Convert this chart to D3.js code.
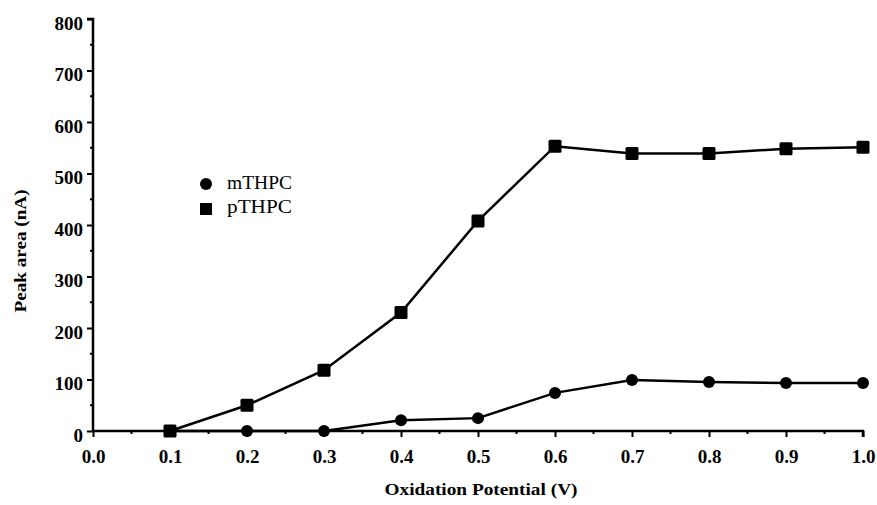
<!DOCTYPE html>
<html><head><meta charset="utf-8">
<script src="https://cdn.jsdelivr.net/npm/d3@7/dist/d3.min.js"></script>
<style>body{margin:0;background:#fff}svg{display:block}</style>
</head><body>
<svg id="c" width="877" height="505"></svg>
<script>
const potentials = [0.1, 0.2, 0.3, 0.4, 0.5, 0.6, 0.7, 0.8, 0.9, 1.0];
const pTHPC = [0, 50, 118, 230, 408, 553, 539, 539, 548, 551];
const mTHPC = [0, 0, 0, 21, 25, 74, 99, 95, 93, 93];
const xTicks = [0.0, 0.1, 0.2, 0.3, 0.4, 0.5, 0.6, 0.7, 0.8, 0.9, 1.0];
const yTicks = [0, 100, 200, 300, 400, 500, 600, 700, 800];
const seriesNames = ["mTHPC", "pTHPC"];

const svg = d3.select("#c");
const x = d3.scaleLinear().domain([0, 1]).range([93, 863]);
const y = d3.scaleLinear().domain([0, 800]).range([431, 19]);
const serif = "'Liberation Serif','Times New Roman',serif";

// axes
const yAxis = d3.axisLeft(y).tickValues(yTicks).tickSize(6).tickPadding(4).tickFormat(d3.format("d"));
const gy = svg.append("g").attr("transform", "translate(93,0)").call(yAxis);
const xAxis = d3.axisBottom(x).tickValues(xTicks).tickSize(6).tickPadding(13).tickFormat(d3.format(".1f"));
const gx = svg.append("g").attr("transform", "translate(0,431)").call(xAxis);
[gy, gx].forEach(g => {
  g.select(".domain").attr("stroke", "#000").attr("stroke-width", 2.5);
  g.selectAll(".tick line").attr("stroke", "#000").attr("stroke-width", 2);
  g.selectAll(".tick text").attr("fill", "#000").style("font-family", serif)
    .style("font-weight", "bold").style("font-size", "19px");
});
gy.selectAll(".tick text").attr("dy", "0.55em");
gy.select(".domain").attr("d", "M-6,19H0V431");
gx.select(".domain").attr("d", "M93,0H863V6");
// minor ticks
const yMinor = d3.range(50, 800, 100);
svg.append("g").selectAll("line").data(yMinor).join("line")
  .attr("x1", 90).attr("x2", 93).attr("y1", d => y(d)).attr("y2", d => y(d))
  .attr("stroke", "#000").attr("stroke-width", 2);
const xMinor = d3.range(0.05, 1, 0.1);
svg.append("g").selectAll("line").data(xMinor).join("line")
  .attr("x1", d => x(d)).attr("x2", d => x(d)).attr("y1", 431).attr("y2", 434)
  .attr("stroke", "#000").attr("stroke-width", 2);

// axis titles
svg.append("text").attr("x", 481).attr("y", 495).attr("text-anchor", "middle")
  .attr("textLength", 193).attr("lengthAdjust", "spacingAndGlyphs")
  .style("font-family", serif).style("font-weight", "bold").style("font-size", "17px")
  .text("Oxidation Potential (V)");
svg.append("text").attr("transform", "translate(26,251) rotate(-90)").attr("text-anchor", "middle")
  .attr("textLength", 123).attr("lengthAdjust", "spacingAndGlyphs")
  .style("font-family", serif).style("font-weight", "bold").style("font-size", "17px")
  .text("Peak area (nA)");

// lines
const line = d3.line().x((d, i) => x(potentials[i])).y(d => y(d));
[pTHPC, mTHPC].forEach(s => {
  svg.append("path").attr("d", line(s)).attr("fill", "none").attr("stroke", "#000").attr("stroke-width", 2.5);
});
svg.append("g").selectAll("circle").data(mTHPC).join("circle")
  .attr("cx", (d, i) => x(potentials[i])).attr("cy", d => y(d)).attr("r", 6).attr("fill", "#000");
svg.append("g").selectAll("rect").data(pTHPC).join("rect")
  .attr("x", (d, i) => x(potentials[i]) - 6.5).attr("y", d => y(d) - 6.5)
  .attr("width", 13).attr("height", 13).attr("rx", 1.5).attr("fill", "#000");

// legend
const lg = svg.append("g");
lg.append("circle").attr("cx", 206).attr("cy", 184).attr("r", 6).attr("fill", "#000");
lg.append("rect").attr("x", 200).attr("y", 203).attr("width", 12).attr("height", 12).attr("fill", "#000");
seriesNames.forEach((n, i) => {
  lg.append("text").attr("x", 227).attr("y", 189 + i * 24)
    .attr("textLength", 65).attr("lengthAdjust", "spacingAndGlyphs")
    .style("font-family", serif).style("font-size", "19px").text(n);
});
</script>
</body></html>
